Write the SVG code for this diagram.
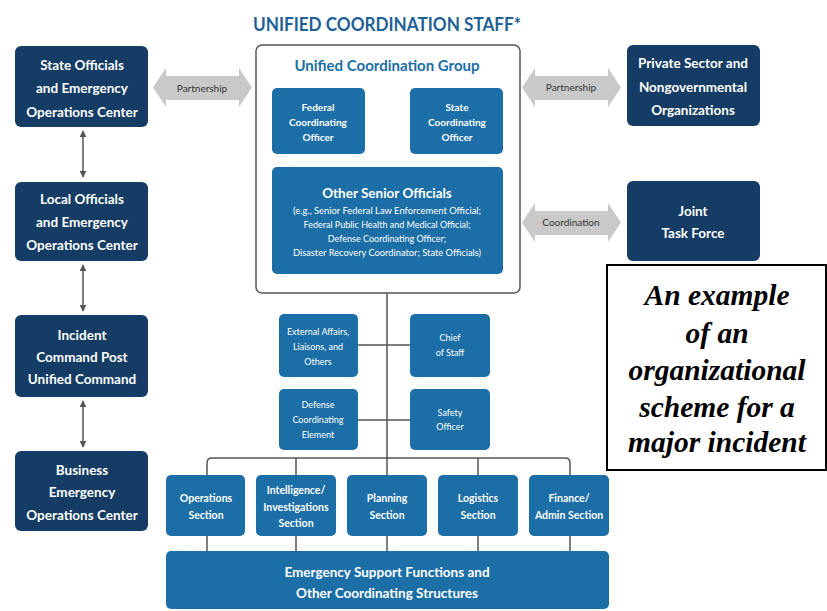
<svg xmlns="http://www.w3.org/2000/svg" width="827" height="611" viewBox="0 0 827 611">
<defs>
<style>
.dark{fill:#143c64}
.mid{fill:#1b6ea6}
.t{font-family:Lato,"Open Sans","Liberation Sans",sans-serif;fill:#fff;text-anchor:middle}
.b14{font-size:13.5px;font-weight:bold}
.b10{font-size:10.5px;font-weight:bold}
.s9{font-size:9px}
.lbl{font-family:Lato,"Open Sans","Liberation Sans",sans-serif;font-size:10px;fill:#333;text-anchor:middle}
.arr{fill:#c9c9c9}
.ln{stroke:#555;stroke-width:1.5;fill:none}
.note{font-family:"Liberation Serif","Times New Roman",serif;font-size:29.5px;font-weight:bold;font-style:italic;fill:#000;text-anchor:middle}
</style>
<marker id="ah" viewBox="0 0 10 10" refX="9" refY="5" markerWidth="7" markerHeight="7" markerUnits="userSpaceOnUse" orient="auto-start-reverse">
<path d="M0,0 L10,5 L0,10 z" fill="#555"/>
</marker>
</defs>
<rect width="827" height="611" fill="#fff"/>

<text x="387" y="31" textLength="268" lengthAdjust="spacingAndGlyphs" style="font-family:Lato,'Open Sans','Liberation Sans',sans-serif;font-size:18px;font-weight:bold;fill:#1f6196;text-anchor:middle">UNIFIED COORDINATION STAFF*</text>

<g id="connectors">
<line class="ln" x1="83" y1="131" x2="83" y2="177" marker-start="url(#ah)" marker-end="url(#ah)"/>
<line class="ln" x1="83" y1="265" x2="83" y2="311" marker-start="url(#ah)" marker-end="url(#ah)"/>
<line class="ln" x1="83" y1="401" x2="83" y2="447" marker-start="url(#ah)" marker-end="url(#ah)"/>
<line class="ln" x1="387" y1="293" x2="387" y2="475"/>
<line class="ln" x1="358" y1="345" x2="410" y2="345"/>
<line class="ln" x1="358" y1="420" x2="410" y2="420"/>
<path class="ln" d="M207,475 V463 Q207,458 212,458 H565 Q570,458 570,463 V475"/>
<line class="ln" x1="296" y1="458" x2="296" y2="475"/>
<line class="ln" x1="478" y1="458" x2="478" y2="475"/>
<line class="ln" x1="207" y1="536" x2="207" y2="551"/>
<line class="ln" x1="296" y1="536" x2="296" y2="551"/>
<line class="ln" x1="387" y1="536" x2="387" y2="551"/>
<line class="ln" x1="478" y1="536" x2="478" y2="551"/>
<line class="ln" x1="570" y1="536" x2="570" y2="551"/>
</g>

<g id="partnership-left">
<polygon class="arr" points="153,87.5 166,68 166,76 239,76 239,68 252,87.5 239,107 239,100 166,100 166,107"/>
<text class="lbl" x="202" y="91.5">Partnership</text>
</g>
<g id="partnership-right">
<polygon class="arr" points="522,87.5 535,68 535,76 608,76 608,68 621,87.5 608,107 608,100 535,100 535,107"/>
<text class="lbl" x="571" y="91">Partnership</text>
</g>
<g id="coordination">
<polygon class="arr" points="522,222.5 535,203 535,211 608,211 608,203 621,222.5 608,242 608,235 535,235 535,242"/>
<text class="lbl" x="571" y="226">Coordination</text>
</g>

<g id="state-officials">
<rect class="dark" x="15" y="46" width="133" height="81" rx="6"/>
<text class="t b14" x="82" y="70">State Officials</text>
<text class="t b14" x="82" y="93">and Emergency</text>
<text class="t b14" x="82" y="117">Operations Center</text>
</g>
<g id="local-officials">
<rect class="dark" x="15" y="182" width="133" height="79" rx="6"/>
<text class="t b14" x="82" y="204">Local Officials</text>
<text class="t b14" x="82" y="227">and Emergency</text>
<text class="t b14" x="82" y="250">Operations Center</text>
</g>
<g id="incident-command">
<rect class="dark" x="15" y="315" width="133" height="82" rx="6"/>
<text class="t b14" x="82" y="340">Incident</text>
<text class="t b14" x="82" y="362">Command Post</text>
<text class="t b14" x="82" y="384">Unified Command</text>
</g>
<g id="business-eoc">
<rect class="dark" x="15" y="451" width="133" height="80" rx="6"/>
<text class="t b14" x="82" y="475">Business</text>
<text class="t b14" x="82" y="497">Emergency</text>
<text class="t b14" x="82" y="520">Operations Center</text>
</g>

<g id="unified-coordination-group">
<rect x="256" y="45" width="264" height="248" rx="6" fill="#fff" stroke="#555" stroke-width="1.5"/>
<text x="387" y="71" style="font-family:Lato,'Open Sans','Liberation Sans',sans-serif;font-size:15px;font-weight:bold;fill:#1b6ea6;text-anchor:middle">Unified Coordination Group</text>
</g>
<g id="federal-coordinating-officer">
<rect class="mid" x="272" y="88" width="93" height="66" rx="5"/>
<text class="t b10" x="318" y="111" style="font-size:10px">Federal</text>
<text class="t b10" x="318" y="126" style="font-size:10px">Coordinating</text>
<text class="t b10" x="318" y="141" style="font-size:10px">Officer</text>
</g>
<g id="state-coordinating-officer">
<rect class="mid" x="410" y="88" width="93" height="66" rx="5"/>
<text class="t b10" x="457" y="111" style="font-size:10px">State</text>
<text class="t b10" x="457" y="126" style="font-size:10px">Coordinating</text>
<text class="t b10" x="457" y="141" style="font-size:10px">Officer</text>
</g>
<g id="other-senior-officials">
<rect class="mid" x="272" y="167" width="231" height="107" rx="5"/>
<text class="t b14" x="387" y="198">Other Senior Officials</text>
<text class="t s9" x="387" y="214" textLength="188" lengthAdjust="spacingAndGlyphs">(e.g., Senior Federal Law Enforcement Official;</text>
<text class="t s9" x="387" y="228" textLength="167" lengthAdjust="spacingAndGlyphs">Federal Public Health and Medical Official;</text>
<text class="t s9" x="387" y="242">Defense Coordinating Officer;</text>
<text class="t s9" x="387" y="256" textLength="188" lengthAdjust="spacingAndGlyphs">Disaster Recovery Coordinator; State Officials)</text>
</g>

<g id="private-sector">
<rect class="dark" x="627" y="45" width="133" height="81" rx="6"/>
<text class="t b14" x="693" y="68">Private Sector and</text>
<text class="t b14" x="693" y="92">Nongovernmental</text>
<text class="t b14" x="693" y="115">Organizations</text>
</g>
<g id="joint-task-force">
<rect class="dark" x="627" y="181" width="133" height="80" rx="6"/>
<text class="t b14" x="693" y="216">Joint</text>
<text class="t b14" x="693" y="238">Task Force</text>
</g>

<g id="external-affairs">
<rect class="mid" x="279" y="314" width="79" height="63" rx="5"/>
<text class="t s9" x="318" y="335">External Affairs,</text>
<text class="t s9" x="318" y="350">Liaisons, and</text>
<text class="t s9" x="318" y="365">Others</text>
</g>
<g id="chief-of-staff">
<rect class="mid" x="410" y="314" width="80" height="63" rx="5"/>
<text class="t s9" x="450" y="341">Chief</text>
<text class="t s9" x="450" y="356">of Staff</text>
</g>
<g id="defense-coordinating-element">
<rect class="mid" x="279" y="389" width="79" height="61" rx="5"/>
<text class="t s9" x="318" y="408">Defense</text>
<text class="t s9" x="318" y="423">Coordinating</text>
<text class="t s9" x="318" y="438">Element</text>
</g>
<g id="safety-officer">
<rect class="mid" x="410" y="389" width="80" height="61" rx="5"/>
<text class="t s9" x="450" y="416">Safety</text>
<text class="t s9" x="450" y="430">Officer</text>
</g>

<g id="operations-section">
<rect class="mid" x="166" y="475" width="79" height="61" rx="5"/>
<text class="t b10" x="206" y="502">Operations</text>
<text class="t b10" x="206" y="519">Section</text>
</g>
<g id="intelligence-section">
<rect class="mid" x="256" y="475" width="80" height="61" rx="5"/>
<text class="t b10" x="296" y="494">Intelligence/</text>
<text class="t b10" x="296" y="511">Investigations</text>
<text class="t b10" x="296" y="527">Section</text>
</g>
<g id="planning-section">
<rect class="mid" x="347" y="475" width="80" height="61" rx="5"/>
<text class="t b10" x="387" y="502">Planning</text>
<text class="t b10" x="387" y="519">Section</text>
</g>
<g id="logistics-section">
<rect class="mid" x="438" y="475" width="80" height="61" rx="5"/>
<text class="t b10" x="478" y="502">Logistics</text>
<text class="t b10" x="478" y="519">Section</text>
</g>
<g id="finance-section">
<rect class="mid" x="529" y="475" width="80" height="61" rx="5"/>
<text class="t b10" x="569" y="502">Finance/</text>
<text class="t b10" x="569" y="519">Admin Section</text>
</g>

<g id="esf">
<rect class="mid" x="166" y="551" width="443" height="58" rx="5"/>
<text class="t b14" x="387" y="577">Emergency Support Functions and</text>
<text class="t b14" x="387" y="598">Other Coordinating Structures</text>
</g>

<g id="note">
<rect x="607" y="265" width="219" height="205" fill="#fff" stroke="#000" stroke-width="2"/>
<text class="note" x="717" y="305">An example</text>
<text class="note" x="717" y="343">of an</text>
<text class="note" x="717" y="380">organizational</text>
<text class="note" x="717" y="417">scheme for a</text>
<text class="note" x="717" y="452">major incident</text>
</g>
</svg>
